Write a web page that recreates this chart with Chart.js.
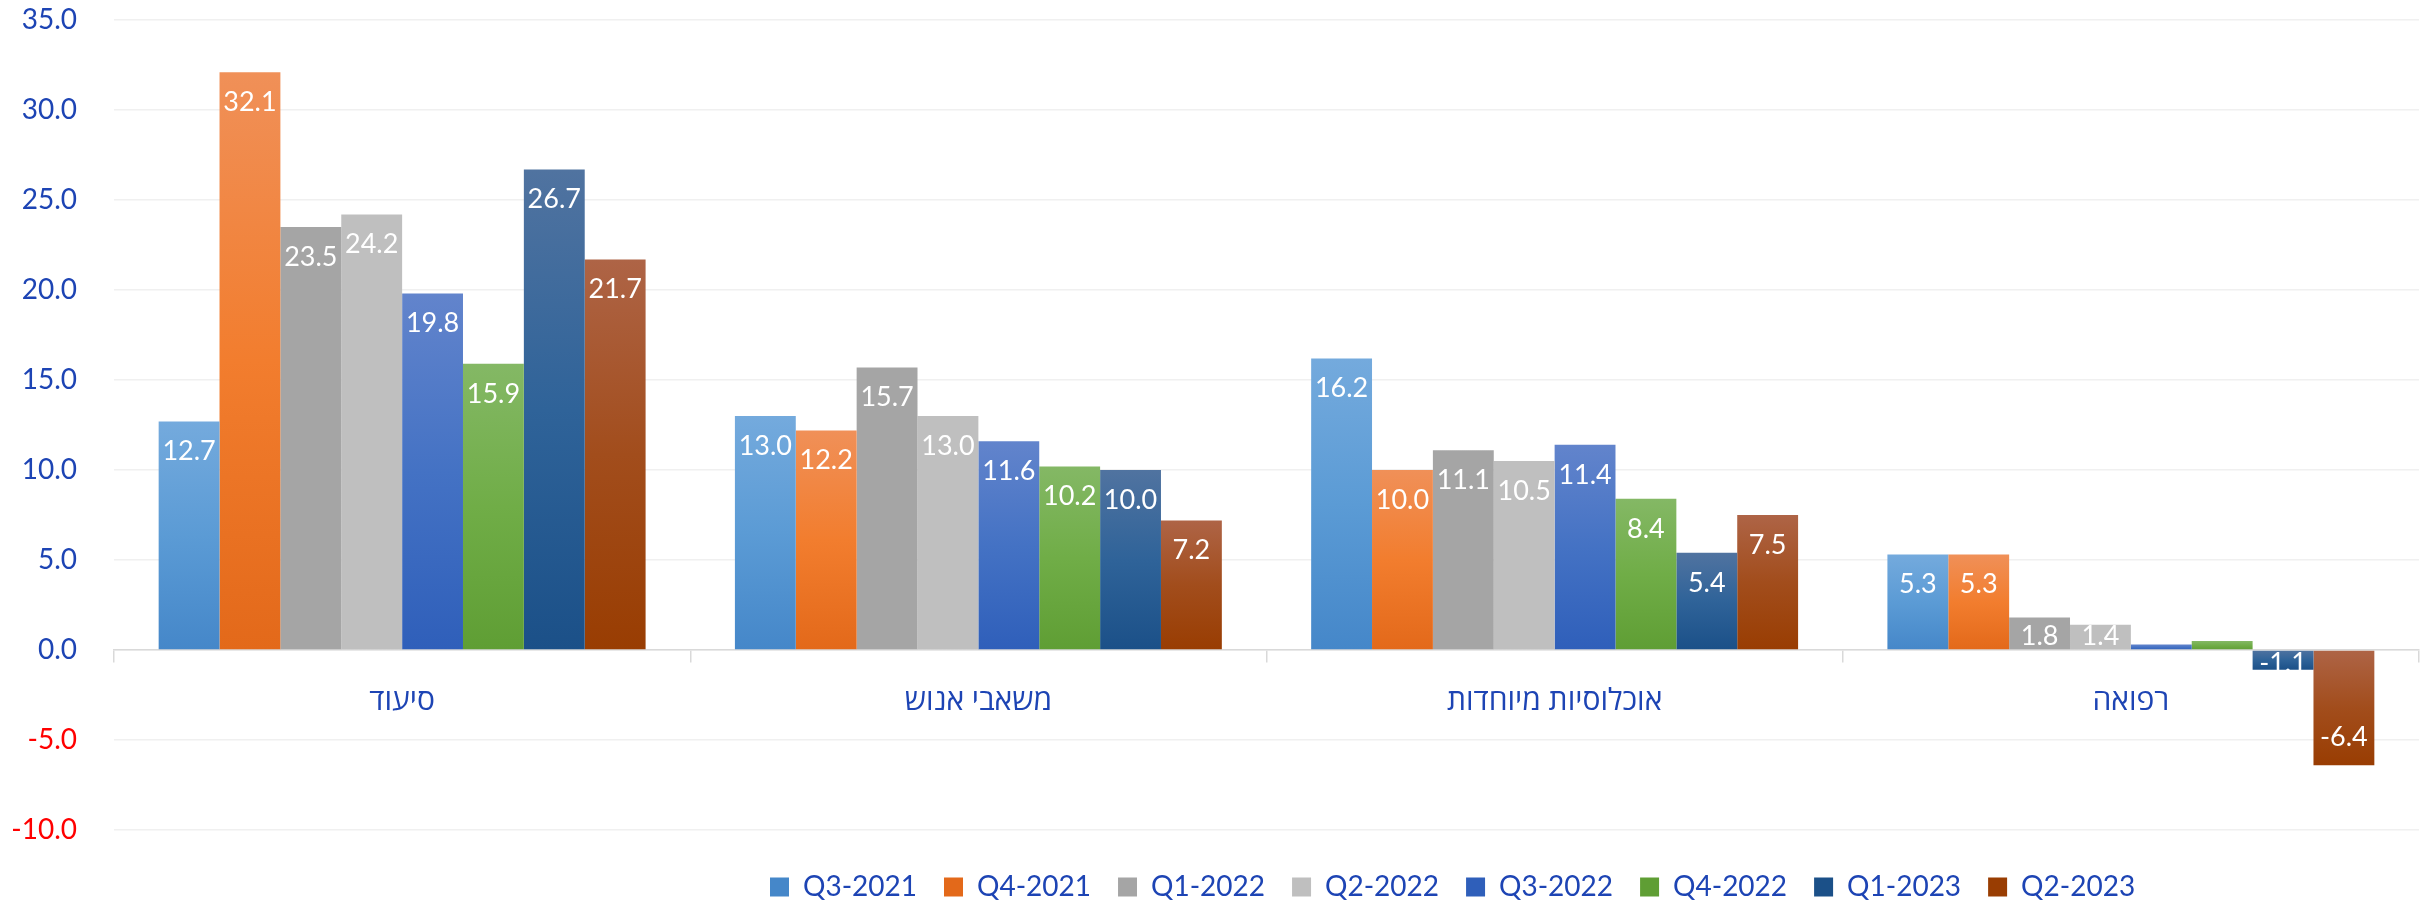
<!DOCTYPE html>
<html>
<head>
<meta charset="utf-8">
<script src="https://cdn.jsdelivr.net/npm/chart.js@4.4.1/dist/chart.umd.min.js"></script>
<style>
  html, body { margin: 0; padding: 0; background: #fff; }
  #wrap { width: 2435px; height: 904px; position: relative; }
</style>
</head>
<body>
<div id="wrap"><canvas id="grafico"></canvas></div>
<script>
// categorias (de izquierda a derecha como en la imagen)
const categorias = ['סיעוד', 'משאבי אנוש', 'אוכלוסיות מיוחדות', 'רפואה'];

// trimestres
const trimestres = ['Q3-2021', 'Q4-2021', 'Q1-2022', 'Q2-2022', 'Q3-2022', 'Q4-2022', 'Q1-2023', 'Q2-2023'];

// valores por trimestre (una fila por serie, en el orden de las categorias)
const q3_2021 = [12.7, 13.0, 16.2, 5.3];
const q4_2021 = [32.1, 12.2, 10.0, 5.3];
const q1_2022 = [23.5, 15.7, 11.1, 1.8];
const q2_2022 = [24.2, 13.0, 10.5, 1.4];
const q3_2022 = [19.8, 11.6, 11.4, 0.3];
const q4_2022 = [15.9, 10.2, 8.4, 0.5];
const q1_2023 = [26.7, 10.0, 5.4, -1.1];
const q2_2023 = [21.7, 7.2, 7.5, -6.4];

// eje y
const ejeMin = -10;
const ejeMax = 35;
const ejePaso = 5;

const series = [q3_2021, q4_2021, q1_2022, q2_2022, q3_2022, q4_2022, q1_2023, q2_2023];

// colores: [arriba, medio, abajo]
const colores = [
    ['#74aadd', '#5b9bd5', '#4587c9'],
    ['#f09058', '#f27d2e', '#e3691a'],
    ['#a5a5a5', '#a5a5a5', '#a5a5a5'],
    ['#bfbfbf', '#bfbfbf', '#bfbfbf'],
    ['#6284cc', '#4472c4', '#2f5fba'],
    ['#84b865', '#70ad47', '#5f9e34'],
    ['#5073a0', '#2f6399', '#1b5088'],
    ['#ae6446', '#a24d1c', '#993d02']
];

const azul = '#1d44b4';
const rojo = '#ff0000';
const fuente = 'Lato, "Open Sans", "Liberation Sans", sans-serif';

// degradado vertical por barra
function relleno(i) {
    return function (ctx) {
        const c = colores[i];
        if (ctx.type !== 'data') return c[1];
        const y = ctx.chart.scales.y;
        if (!y) return c[1];
        const p1 = y.getPixelForValue(ctx.raw);
        const p0 = y.getPixelForValue(0);
        const top = Math.min(p0, p1), bot = Math.max(p0, p1);
        if (!isFinite(top) || bot - top < 1) return c[1];
        const g = ctx.chart.ctx.createLinearGradient(0, top, 0, bot);
        g.addColorStop(0, c[0]);
        g.addColorStop(0.5, c[1]);
        g.addColorStop(1, c[2]);
        return g;
    };
}

// etiquetas blancas dentro de la barra
const etiquetas = {
    id: 'etiquetas',
    afterDatasetsDraw(chart) {
        const ctx = chart.ctx;
        ctx.save();
        ctx.font = '27px ' + fuente;
        ctx.fillStyle = '#ffffff';
        ctx.textAlign = 'center';
        ctx.textBaseline = 'middle';
        chart.data.datasets.forEach((ds, i) => {
            const meta = chart.getDatasetMeta(i);
            meta.data.forEach((bar, j) => {
                const v = ds.data[j];
                if (Math.abs(v) < 1) return;
                const p = bar.getProps(['x', 'y', 'base'], true);
                let cy;
                if (v >= 0) cy = Math.min(p.y + 30, p.base - 13);
                else cy = Math.max(p.y - 28, p.base + 13);
                ctx.fillText(v.toFixed(1), p.x, cy);
            });
        });
        ctx.restore();
    }
};

// mueve la leyenda para que quede donde en la imagen
const leyendaInicio = 770;
const leyendaCentroY = 887;
const moverLeyenda = {
    id: 'moverLeyenda',
    afterLayout(chart) {
        const lg = chart.legend;
        if (!lg || !lg.lineWidths) return;
        const lab = lg.options.labels;
        const pad = lab.padding;
        const cx = (lg.left + pad + lg.right - lg.lineWidths[0]) / 2;
        const dx = leyendaInicio - cx;
        lg.left += dx;
        lg.right += dx;
        const cy = lg.top + pad + Math.max(lab.font.size, lab.boxHeight) / 2;
        const dy = leyendaCentroY - cy;
        lg.top += dy;
        lg.bottom += dy;
    }
};

Chart.defaults.font.family = fuente;

new Chart(document.getElementById('grafico'), {
    type: 'bar',
    data: {
        labels: categorias,
        datasets: trimestres.map((t, i) => ({
            label: t,
            data: series[i],
            backgroundColor: relleno(i),
            borderWidth: 0,
            categoryPercentage: 0.845,
            barPercentage: 1.0
        }))
    },
    options: {
        responsive: true,
        maintainAspectRatio: false,
        animation: false,
        layout: { padding: { left: 12, right: 16, top: 20, bottom: 9 } },
        plugins: {
            tooltip: { enabled: false },
            legend: {
                position: 'bottom',
                labels: {
                    boxWidth: 19,
                    boxHeight: 19,
                    padding: 27,
                    color: azul,
                    font: { size: 28 }
                }
            }
        },
        scales: {
            x: {
                position: { y: 0 },
                grid: {
                    offset: true,
                    drawOnChartArea: false,
                    tickLength: 12,
                    color: '#d9d9d9',
                    lineWidth: 1.5
                },
                border: { color: '#d9d9d9', width: 1.5 },
                ticks: { color: azul, font: { size: 30 }, padding: 20 }
            },
            y: {
                min: ejeMin,
                max: ejeMax,
                grid: { color: '#f0f0f0', lineWidth: 1.5, drawTicks: false },
                border: { display: false },
                ticks: {
                    stepSize: ejePaso,
                    padding: 37,
                    font: { size: 28 },
                    color: (c) => (c.tick && c.tick.value < 0 ? rojo : azul),
                    callback: (v) => Number(v).toFixed(1)
                },
                afterFit(s) {
                    s.width = 102;
                    s.paddingTop = 14;
                    s.paddingBottom = 14;
                }
            }
        }
    },
    plugins: [etiquetas, moverLeyenda]
});
</script>
</body>
</html>
